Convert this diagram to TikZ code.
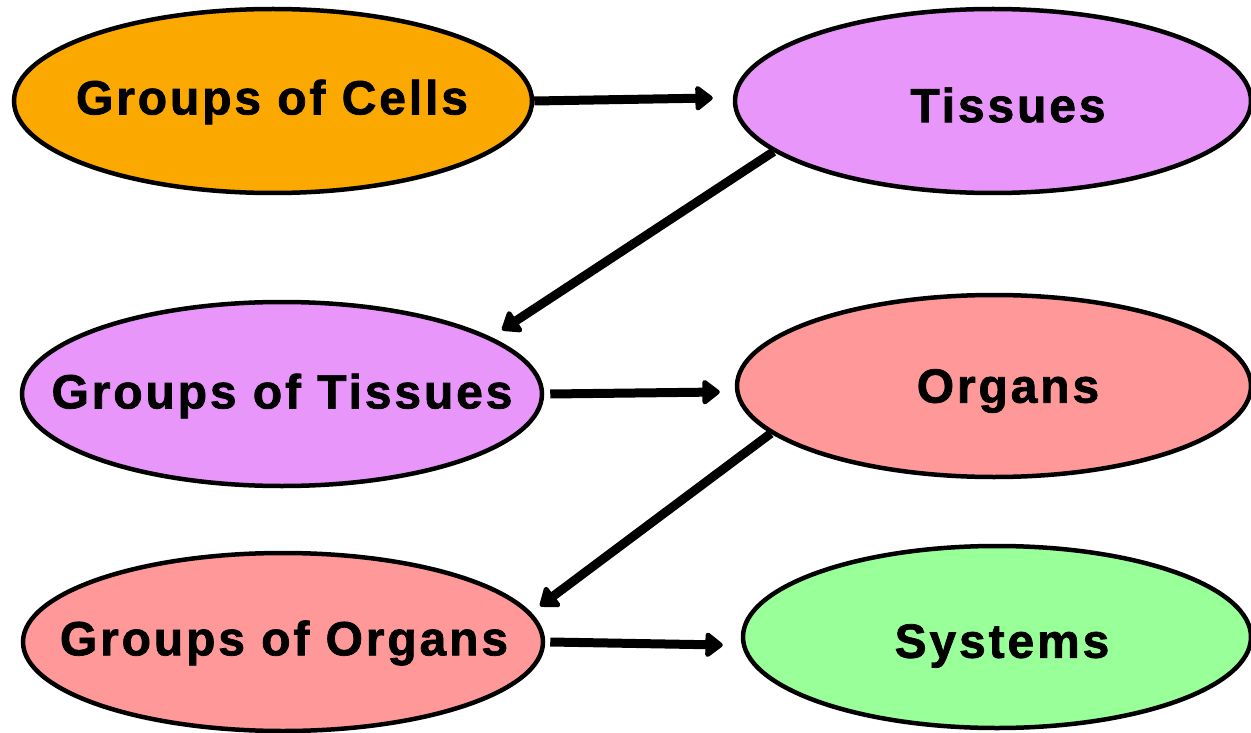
\documentclass[tikz,border=0pt]{standalone}
\usepackage{fontspec}
\newfontfamily\lblfont{Liberation Sans}[LetterSpace=6,FakeBold=1.5]
\usetikzlibrary{shapes.geometric,arrows.meta}
\definecolor{cOrange}{HTML}{FBA900}
\definecolor{cViolet}{HTML}{E896FA}
\definecolor{cSalmon}{HTML}{FF9999}
\definecolor{cGreen}{HTML}{99FF99}
\tikzset{
  blob/.style={ellipse, draw=black, line width=4.5pt, inner sep=0pt},
  lbl/.style={font=\lblfont\bfseries\fontsize{48}{52}\selectfont, inner sep=0pt},
  arr/.style={line width=9pt, line cap=butt,
    -{Triangle[length=19pt,width=28pt,round]}}
}
\begin{document}
\begin{tikzpicture}[x=1pt,y=-1pt]
\useasboundingbox[fill=white] (0,0) rectangle (1251,733);
\node[blob, fill=cOrange, minimum width=518pt, minimum height=184pt] (cells) at (273,101) {};
\node[lbl] (tcells) at (272,102) {Groups of Cells};
\node[blob, fill=cViolet, minimum width=516pt, minimum height=184pt] (tissues) at (993,101) {};
\node[lbl] (ttissues) at (1008,105) {Tissues};
\node[blob, fill=cViolet, minimum width=520pt, minimum height=184pt] (gtissues) at (282,394) {};
\node[lbl] (tgtissues) at (282,396) {Groups of Tissues};
\node[blob, fill=cSalmon, minimum width=514pt, minimum height=182pt] (organs) at (994,386) {};
\node[lbl] (torgans) at (1008,391) {Organs};
\node[blob, fill=cSalmon, minimum width=520pt, minimum height=178pt] (gorgans) at (283,642) {};
\node[lbl] (tgorgans) at (284,643) {Groups of Organs};
\node[blob, fill=cGreen, minimum width=508pt, minimum height=182pt] (systems) at (997,637) {};
\node[lbl] (tsystems) at (1002,646) {Systems};
\draw[arr] (cells.east) -- ([shift={(-20,-3)}]tissues.west);
\draw[arr] (tissues.193) -- ([shift={(220,-64)}]gtissues.center);
\draw[arr] ([xshift=6pt]gtissues.east) -- ([shift={(-15,6)}]organs.west);
\draw[arr] (organs.192) -- ([shift={(257,-36)}]gorgans.center);
\draw[arr] ([xshift=5pt]gorgans.east) -- ([shift={(-18,8)}]systems.west);
\end{tikzpicture}
\end{document}
